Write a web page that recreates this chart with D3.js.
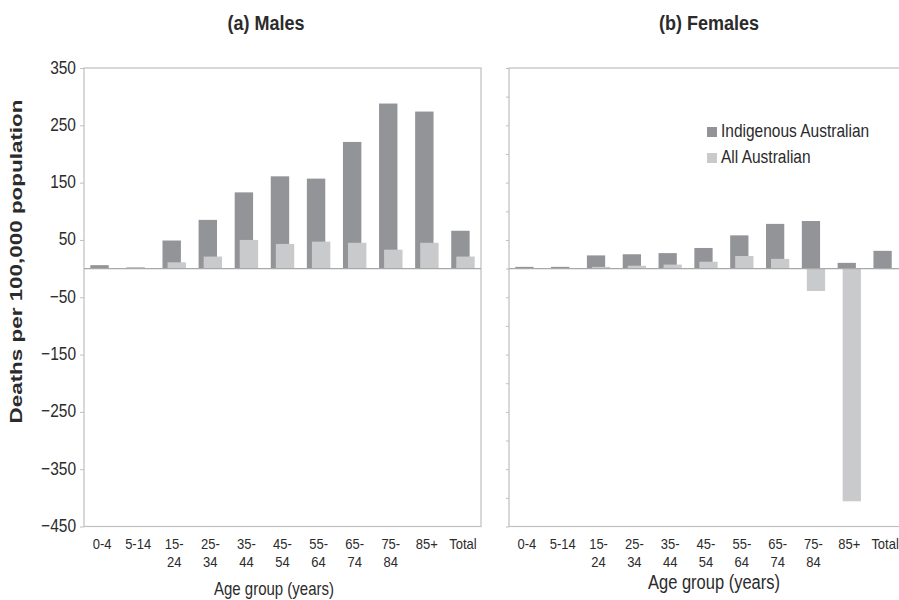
<!DOCTYPE html>
<html>
<head>
<meta charset="utf-8">
<script src="https://cdn.jsdelivr.net/npm/d3@7/dist/d3.min.js"></script>
<style>
  html, body { margin: 0; padding: 0; background: #fff; }
  svg { display: block; }
  text { font-family: "Liberation Sans", Arial, sans-serif; fill: #2b2b2b; }
</style>
</head>
<body>
<svg id="chart" width="899" height="600"></svg>
<script>
// ---- data ----
const categories = ["0-4", "5-14", "15-24", "25-34", "35-44", "45-54", "55-64", "65-74", "75-84", "85+", "Total"];
const tickLabels = [["0-4"], ["5-14"], ["15-", "24"], ["25-", "34"], ["35-", "44"], ["45-", "54"], ["55-", "64"], ["65-", "74"], ["75-", "84"], ["85+"], ["Total"]];
const seriesNames = ["Indigenous Australian", "All Australian"];
const maleIndigenous = [6, 2, 49, 85, 133, 161, 157, 221, 288, 274, 66];
const maleAll = [1, 1, 11, 21, 50, 43, 47, 45, 33, 45, 21];
const femaleIndigenous = [3, 3, 23, 25, 27, 36, 58, 78, 83, 10, 31];
const femaleAll = [0.5, 0.5, 3, 5, 7, 12, 22, 17, -39, -406, -1];
const yTicks = [350, 250, 150, 50, -50, -150, -250, -350, -450];
const yMinorTicks = d3.range(-450, 351, 50);
const panelTitles = ["(a) Males", "(b) Females"];
const yTitle = "Deaths per 100,000 population";
const xTitle = "Age group (years)";

// ---- layout ----
const svg = d3.select("#chart");
const DARK = "#939497", LIGHT = "#c9cacc", FRAME = "#bfbfbf";
const SY = 1.17; // vertical text stretch as in source
const y = d3.scaleLinear().domain([-450, 350]).range([526.5, 68]);

const panels = [
  { x0: 84, x1: 481, dark: maleIndigenous, light: maleAll, title: panelTitles[0], labels: true, titleX: 266, xTitleX: 274, xTitleY: 595, xTitleSize: 15 },
  { x0: 509, x1: 903, dark: femaleIndigenous, light: femaleAll, title: panelTitles[1], labels: false, titleX: 709, xTitleX: 714, xTitleY: 589, xTitleSize: 16.5 }
];

function stretchedText(g, x, yy, str, opts) {
  const sy = opts.sy || SY;
  const t = g.append("text")
    .attr("transform", `translate(${x},${yy}) scale(1,${sy})` + (opts.rotate ? ` rotate(${opts.rotate})` : ""))
    .attr("text-anchor", opts.anchor || "middle")
    .style("font-size", opts.size + "px")
    .style("font-weight", opts.bold ? "bold" : "normal")
    .text(str);
  return t;
}

panels.forEach((p, pi) => {
  const g = svg.append("g");
  const x = d3.scaleBand().domain(categories).range([p.x0, p.x1]).paddingInner(0).paddingOuter(0);
  const bw = x.bandwidth();

  // frame
  g.append("rect").attr("x", p.x0).attr("y", y(350)).attr("width", p.x1 - p.x0).attr("height", y(-450) - y(350))
    .attr("fill", "none").attr("stroke", FRAME).attr("stroke-width", 1.2);

  // y axis ticks
  const yAxis = d3.axisLeft(y).tickValues(p.labels ? yTicks : yMinorTicks).tickSize(p.labels ? 4 : 3).tickPadding(6)
    .tickFormat(p.labels ? d3.format("d") : "");
  const ya = g.append("g").attr("transform", `translate(${p.x0},0)`).call(yAxis);
  ya.select(".domain").remove();
  ya.selectAll(".tick line").attr("stroke", FRAME);
  ya.selectAll(".tick text").remove();
  if (p.labels) {
    yTicks.forEach(v => {
      stretchedText(g, p.x0 - 8, y(v) + 5.5, d3.format("d")(v), { size: 15.5, anchor: "end" });
    });
  }

  // bars
  const dark = categories.map((c, i) => ({ c, v: p.dark[i] }));
  const light = categories.map((c, i) => ({ c, v: p.light[i] }));
  g.selectAll(".dark").data(dark).join("rect")
    .attr("x", d => x(d.c) + bw * 0.175).attr("width", bw * 0.51)
    .attr("y", d => y(Math.max(0, d.v))).attr("height", d => Math.abs(y(d.v) - y(0)))
    .attr("fill", DARK);
  g.selectAll(".light").data(light).join("rect")
    .attr("x", d => x(d.c) + bw * 0.315).attr("width", bw * 0.51)
    .attr("y", d => y(Math.max(0, d.v))).attr("height", d => Math.abs(y(d.v) - y(0)))
    .attr("fill", LIGHT);

  // zero line
  g.append("line").attr("x1", p.x0).attr("x2", p.x1).attr("y1", y(0)).attr("y2", y(0))
    .attr("stroke", "#a9a9a9").attr("stroke-width", 1.2);

  // x tick labels
  categories.forEach((c, i) => {
    tickLabels[i].forEach((line, li) => {
      stretchedText(g, x(c) + bw / 2, 549 + li * 18, line, { size: 13 });
    });
  });

  // titles
  stretchedText(g, p.titleX, 30, p.title, { size: 18, bold: true });
  stretchedText(g, p.xTitleX, p.xTitleY, xTitle, { size: p.xTitleSize });
});

// y title
stretchedText(svg, 22, 261.5, yTitle, { size: 17, bold: true, rotate: -90, sy: 1.32 });

// legend
const lg = svg.append("g");
seriesNames.forEach((s, i) => {
  const ly = 132 + i * 26;
  lg.append("rect").attr("x", 707).attr("y", ly - 5).attr("width", 10).attr("height", 10)
    .attr("fill", i === 0 ? DARK : LIGHT);
  stretchedText(lg, 721, ly + 5, s, { size: 15.5, anchor: "start" });
});
</script>
</body>
</html>
